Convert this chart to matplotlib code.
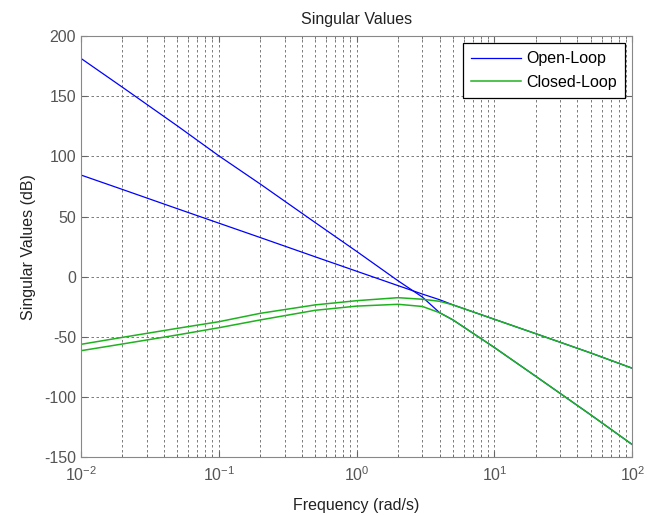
import matplotlib
matplotlib.use("Agg")
import matplotlib.pyplot as plt
from matplotlib.ticker import LogLocator, NullFormatter, MultipleLocator

plt.rcParams['font.family'] = ['Liberation Sans', 'DejaVu Sans']
plt.rcParams['mathtext.fontset'] = 'custom'
plt.rcParams['mathtext.rm'] = 'Liberation Sans'
plt.rcParams['mathtext.it'] = 'Liberation Sans'
plt.rcParams['axes.unicode_minus'] = False

# frequency samples (rad/s)
w = [0.01, 0.02, 0.05, 0.1, 0.2, 0.5, 1, 2, 3, 4, 5, 10, 20, 50, 100]

# open-loop singular values (dB)
ol_sv1 = [181.5, 157.5, 125.4, 100.5, 77, 45, 21, -3.5, -17, -30, -36, -59, -83, -115, -139.7]
ol_sv2 = [84.5, 72.5, 56.5, 44.5, 32.5, 16.5, 4.5, -7.5, -14.5, -19.2, -23.5, -35.5, -47.5, -63.5, -76.2]

# closed-loop singular values (dB)
cl_sv1 = [-56.3, -50.5, -43, -37.5, -30.5, -23.5, -20, -17.5, -18.8, -20.5, -23.5, -35.5, -47.5, -63.5, -76.2]
cl_sv2 = [-61.6, -56, -48.5, -42.5, -36, -28, -24.5, -23, -24.8, -30, -36, -59, -83, -115, -139.7]

blue = '#0000ff'
green = '#1fb21f'

fig = plt.figure(figsize=(6.58, 5.16), dpi=100)
ax = fig.add_axes([0.123, 0.1143, 0.838, 0.8157])

ax.semilogx(w, ol_sv1, color=blue, lw=0.9, label='Open-Loop')
ax.semilogx(w, ol_sv2, color=blue, lw=0.9)
ax.semilogx(w, cl_sv1, color=green, lw=1.1, label='Closed-Loop')
ax.semilogx(w, cl_sv2, color=green, lw=1.1)

ax.set_xlim(1e-2, 1e2)
ax.set_ylim(-150, 200)
ax.yaxis.set_major_locator(MultipleLocator(50))
ax.xaxis.set_minor_locator(LogLocator(base=10, subs=range(2, 10)))
ax.xaxis.set_minor_formatter(NullFormatter())

ax.grid(True, which='major', color='#666666', ls=(0, (3, 3)), lw=0.6)
ax.grid(True, which='minor', axis='x', color='#666666', ls=(0, (3, 3)), lw=0.6)

ax.tick_params(which='both', direction='in', top=True, right=True,
               colors='#666666', labelsize=11.5, labelcolor='#555555')
ax.tick_params(which='major', length=4)
ax.tick_params(which='minor', length=2)
ax.tick_params(axis='x', pad=6)
for s in ax.spines.values():
    s.set_color('#888888')

ax.set_title('Singular Values', fontsize=11.5, color='#222222', pad=9)
ax.set_xlabel('Frequency (rad/s)', fontsize=11.5, color='#222222', labelpad=10)
ax.set_ylabel('Singular Values (dB)', fontsize=11.5, color='#222222', labelpad=6)

leg = ax.legend(loc='upper right', fancybox=False, framealpha=1, edgecolor='black',
                fontsize=11.5, handlelength=3.1, borderaxespad=0.45, handletextpad=0.35,
                labelspacing=0.55, borderpad=0.5)
leg.get_frame().set_linewidth(0.9)

fig.savefig('out.png', dpi=100)
